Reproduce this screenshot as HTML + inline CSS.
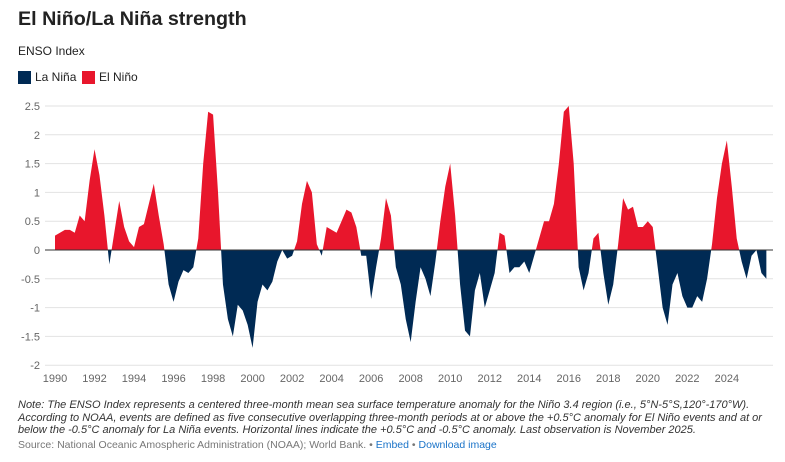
<!DOCTYPE html>
<html><head><meta charset="utf-8"><style>
body{margin:0;background:#fff;font-family:"Liberation Sans",sans-serif;width:785px;height:462px;overflow:hidden;position:relative}
.t{position:absolute;left:18px;top:8px;font-size:19.7px;font-weight:bold;color:#222}
.s{position:absolute;left:18px;top:44px;font-size:12px;color:#222}
.lg{position:absolute;top:70px;font-size:12px;color:#222;display:flex;align-items:center}
.lg i{display:inline-block;width:13px;height:13px;margin-right:4px}
.note{position:absolute;left:18px;top:399px;width:760px;font-size:11px;font-style:italic;color:#333;line-height:12.5px}
.src{position:absolute;left:18px;top:439px;font-size:10.5px;color:#777}
.src a{color:#1a73c8;text-decoration:none}
</style></head><body>
<div class="t">El Niño/La Niña strength</div>
<div class="s">ENSO Index</div>
<div class="lg" style="left:18px"><i style="background:#002a54"></i>La Niña</div>
<div class="lg" style="left:82px"><i style="background:#e8162c"></i>El Niño</div>
<svg id="c" width="785" height="462" style="position:absolute;left:0;top:0"></svg>
<div class="note">Note: The ENSO Index represents a centered three-month mean sea surface temperature anomaly for the Niño 3.4 region (i.e., 5°N-5°S,120°-170°W). According to NOAA, events are defined as five consecutive overlapping three-month periods at or above the +0.5°C anomaly for El Niño events and at or below the -0.5°C anomaly for La Niña events. Horizontal lines indicate the +0.5°C and -0.5°C anomaly. Last observation is November 2025.</div>
<div class="src">Source: National Oceanic Amospheric Administration (NOAA); World Bank. • <a>Embed</a> • <a>Download image</a></div>
<script>
const startYear=1990;
const stepYears=0.25;
const values=[0.25,0.3,0.35,0.35, 0.3,0.6,0.5,1.2, 1.75,1.3,0.6,-0.25, 0.3,0.85,0.4,0.15, 0.05,0.4,0.45,0.8, 1.15,0.6,0.1,-0.6,
-0.9,-0.55,-0.35,-0.4, -0.3,0.2,1.5,2.4, 2.35,1.0,-0.6,-1.2, -1.5,-0.95,-1.05,-1.3, -1.7,-0.9,-0.6,-0.7, -0.55,-0.2,0.0,-0.15,
-0.1,0.15,0.8,1.2, 1.0,0.1,-0.1,0.4, 0.35,0.3,0.5,0.7, 0.65,0.4,-0.1,-0.1, -0.85,-0.3,0.2,0.9, 0.6,-0.3,-0.6,-1.2,
-1.6,-0.9,-0.3,-0.5, -0.8,-0.2,0.5,1.1, 1.5,0.6,-0.6,-1.4, -1.5,-0.7,-0.4,-1.0, -0.7,-0.4,0.3,0.25, -0.4,-0.3,-0.3,-0.2,
-0.4,-0.1,0.2,0.5, 0.5,0.8,1.5,2.4, 2.5,1.5,-0.3,-0.7, -0.4,0.2,0.3,-0.4, -0.95,-0.6,0.1,0.9, 0.7,0.75,0.4,0.4,
0.5,0.4,-0.3,-1.0, -1.3,-0.6,-0.4,-0.8, -1.0,-1.0,-0.8,-0.9, -0.5,0.1,0.9,1.5, 1.9,1.1,0.2,-0.2, -0.5,-0.1,0.0,-0.4,-0.5];
const yTicks=[2.5,2,1.5,1,0.5,0,-0.5,-1,-1.5,-2];
const xTicks=[1990,1992,1994,1996,1998,2000,2002,2004,2006,2008,2010,2012,2014,2016,2018,2020,2022,2024];
const NS="http://www.w3.org/2000/svg",svg=document.getElementById('c');
const X=yr=>55+(yr-1990)*19.76, Y=v=>250-v*57.6;
function mk(t,a,p){const e=document.createElementNS(NS,t);for(const k in a)e.setAttribute(k,a[k]);(p||svg).appendChild(e);return e;}
yTicks.forEach(v=>{
 const g=mk('line',{x1:45,x2:773,y1:Y(v),y2:Y(v),stroke:'#e2e2e2','stroke-width':1});
 
 
 const l=mk('text',{x:40,y:Y(v)+4,'text-anchor':'end','font-size':11,fill:'#666','font-family':'Liberation Sans'});
 l.textContent=v;
 
 
});
xTicks.forEach(yr=>{
 const l=mk('text',{x:X(yr),y:382,'text-anchor':'middle','font-size':11,fill:'#666','font-family':'Liberation Sans'});
 l.textContent=yr;
 
 
});
let d='M'+X(startYear)+','+Y(0);
values.forEach((v,i)=>{d+=' L'+X(startYear+i*stepYears).toFixed(2)+','+Y(v).toFixed(2);});
d+=' L'+X(startYear+(values.length-1)*stepYears)+','+Y(0)+' Z';
const defs=mk('defs',{});
const c1=mk('clipPath',{id:'up'},defs);mk('rect',{x:0,y:0,width:785,height:Y(0)},c1);
const c2=mk('clipPath',{id:'dn'},defs);mk('rect',{x:0,y:Y(0),width:785,height:300},c2);
const pu=mk('path',{d:d,fill:'#e8162c','clip-path':'url(#up)'});


const pd=mk('path',{d:d,fill:'#002a54','clip-path':'url(#dn)'});


const z=mk('line',{x1:45,x2:773,y1:Y(0),y2:Y(0),stroke:'#333','stroke-width':1});


</script>
</body></html>
